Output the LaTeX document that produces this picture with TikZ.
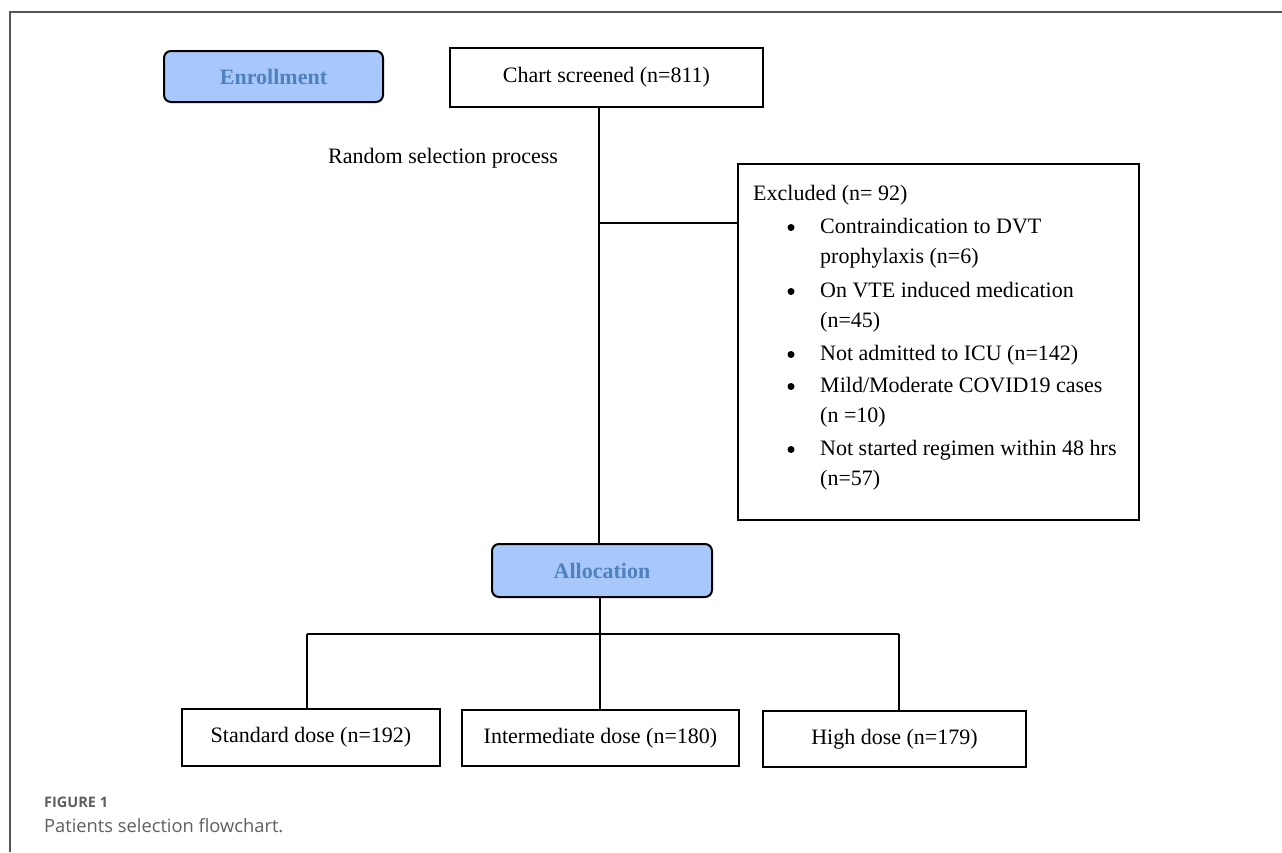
\documentclass[tikz,border=0pt]{standalone}
\usepackage{fontspec}
\setmainfont{Liberation Serif}
\newfontfamily\capfont{Open Sans}
\definecolor{boxblue}{RGB}{168,199,250}
\definecolor{textblue}{RGB}{79,129,189}
\definecolor{framegray}{RGB}{85,85,85}
\definecolor{capgray}{RGB}{95,95,95}
\tikzset{
  plainbox/.style={draw=black, line width=2.2pt, fill=white, inner sep=0pt,
    font=\fontsize{22}{26}\selectfont, align=center},
  phasebox/.style={draw=black, line width=2pt, fill=boxblue, rounded corners=7pt,
    inner sep=0pt, font=\fontsize{22}{26}\selectfont\bfseries, text=textblue},
  link/.style={draw=black, line width=2.2pt},
  plaintext/.style={inner sep=0pt, anchor=base west, font=\fontsize{22}{26}\selectfont},
}
\begin{document}
\begin{tikzpicture}[x=1pt, y=-1pt]
\useasboundingbox (0,0) rectangle (1282,852);
\fill[white] (0,0) rectangle (1282,852);
% outer frame
\draw[framegray, line width=1.5pt] (10,852) -- (10,12) -- (1282,12);

% nodes
\node[phasebox, minimum width=219pt, minimum height=51pt] (enroll) at (273.5,76.5) {Enrollment};
\node[plainbox, minimum width=313pt, minimum height=59pt] (chart) at (606.5,77.5) {Chart screened (n=811)};
\node[plaintext] (random) at (328,163) {Random selection process};
\node[plainbox, minimum width=401pt, minimum height=356pt] (excl) at (938.5,342) {};
\node[phasebox, minimum width=220pt, minimum height=53pt] (alloc) at (602,570.5) {Allocation};
\node[plainbox, minimum width=258pt, minimum height=57pt] (std) at (311,737.5) {Standard dose (n=192)};
\node[plainbox, minimum width=277pt, minimum height=56pt] (inter) at (600.5,738) {Intermediate dose (n=180)};
\node[plainbox, minimum width=263pt, minimum height=56pt] (high) at (894.5,739) {High dose (n=179)};

% excluded text
\node[plaintext] (exhead) at (753,200) {Excluded (n= 92)};
\node[plaintext] (ex1a) at (820,233) {Contraindication to DVT};
\node[plaintext] (ex1b) at (820,263) {prophylaxis (n=6)};
\node[plaintext] (ex2a) at (820,297) {On VTE induced medication};
\node[plaintext] (ex2b) at (820,327) {(n=45)};
\node[plaintext] (ex3a) at (820,360) {Not admitted to ICU (n=142)};
\node[plaintext] (ex4a) at (820,392) {Mild/Moderate COVID19 cases};
\node[plaintext] (ex4b) at (820,422) {(n =10)};
\node[plaintext] (ex5a) at (820,455) {Not started regimen within 48 hrs};
\node[plaintext] (ex5b) at (820,485) {(n=57)};
\foreach \yy in {227.5,291.5,354.5,386.5,449.5}
  \fill[black] (791,\yy) circle (3.5pt);

% helper coordinates
\coordinate (trunk) at (599,300);
\coordinate (split) at (599,223);
\coordinate (lowtrunk) at (600,634);
\coordinate (lbranch) at (307,634);
\coordinate (rbranch) at (899,634);

% connectors
\draw[link] (chart.south -| trunk) -- (alloc.north -| trunk);
\draw[link] (split) -- (split -| excl.west);
\draw[link] (alloc.south -| lowtrunk) -- (lowtrunk);
\draw[link] (lbranch) -- (rbranch);
\draw[link] (lbranch) -- (std.north -| lbranch);
\draw[link] (lowtrunk) -- (inter.north -| lowtrunk);
\draw[link] (rbranch) -- (high.north -| rbranch);

% caption
\node[inner sep=0pt, anchor=base west, text=capgray, font=\capfont\fontsize{14.5}{17}\selectfont\bfseries] (figlabel) at (44,807) {FIGURE 1};
\node[inner sep=0pt, anchor=base west, text=capgray, font=\capfont\fontsize{18.3}{22}\selectfont] (figcap) at (44,832) {Patients selection flowchart.};
\end{tikzpicture}
\end{document}
